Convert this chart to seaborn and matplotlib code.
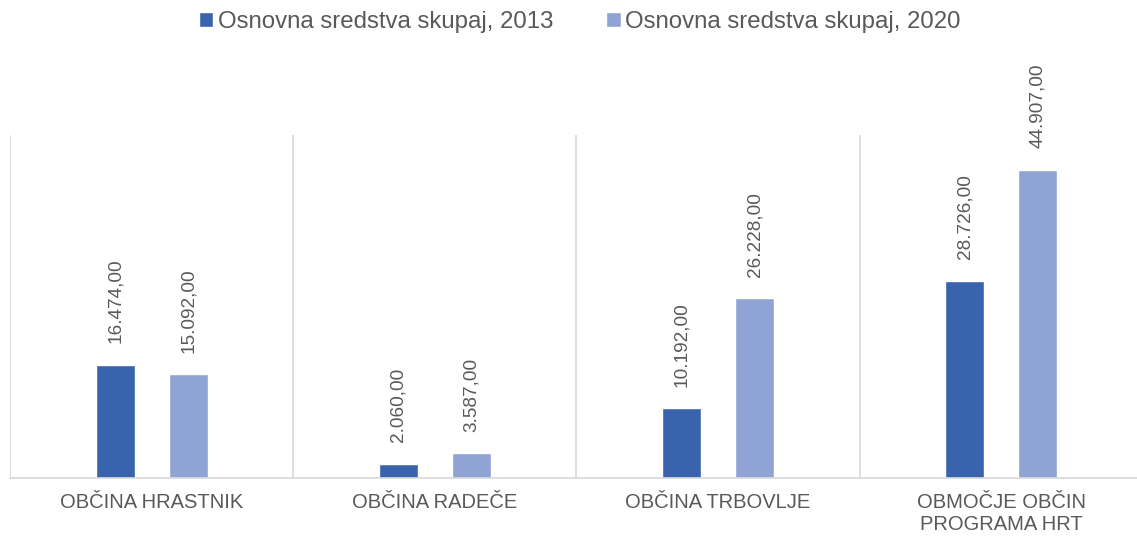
import seaborn as sns
import matplotlib.pyplot as plt
import pandas as pd

# Podatki
obcine = ["OBČINA HRASTNIK", "OBČINA RADEČE", "OBČINA TRBOVLJE", "OBMOČJE OBČIN\nPROGRAMA HRT"]
leto_2013 = [16474, 2060, 10192, 28726]
leto_2020 = [15092, 3587, 26228, 44907]
serije = ["Osnovna sredstva skupaj, 2013", "Osnovna sredstva skupaj, 2020"]
barve = ["#3A63AD", "#8FA4D5"]

df = pd.DataFrame({
    "obcina": obcine * 2,
    "vrednost": leto_2013 + leto_2020,
    "serija": [serije[0]] * 4 + [serije[1]] * 4,
})

sns.set_style("white")
plt.rcParams["font.family"] = ["Liberation Sans", "DejaVu Sans"]

fig = plt.figure(figsize=(11.37, 5.38), dpi=100)
ax = fig.add_axes([10 / 1137, 60 / 538, 1133 / 1137, 343 / 538])

sns.barplot(data=df, x="obcina", y="vrednost", hue="serija",
            palette=barve, width=0.516, gap=0.465, ax=ax, saturation=1)

# Oznake vrednosti
for cont in ax.containers:
    labels = [f"{v:,.2f}".replace(",", "X").replace(".", ",").replace("X", ".")
              for v in cont.datavalues]
    ax.bar_label(cont, labels=labels, rotation=90, padding=15.5,
                 fontsize=13.7, color="#595959")

ax.set_xlim(-0.5, 3.5)
ax.set_ylim(0, 50000)
ax.vlines([-0.5, 0.5, 1.5, 2.5], 0, 50000, color="#d9d9d9", linewidth=1.2)
for s in ["top", "right", "left"]:
    ax.spines[s].set_visible(False)
ax.spines["bottom"].set_color("#d9d9d9")
ax.spines["bottom"].set_linewidth(1.2)
ax.set_yticks([])
ax.set_xlabel("")
ax.set_ylabel("")
ax.tick_params(axis="x", length=0, pad=11, labelsize=14.5, labelcolor="#595959")

ax.legend(loc="center", bbox_to_anchor=(0.503, 1.33), ncol=2, frameon=False,
          fontsize=17.3, handlelength=0.6, handleheight=0.6, handletextpad=0.2,
          columnspacing=2.2, labelcolor="#595959")

plt.savefig("out.png", dpi=100)
